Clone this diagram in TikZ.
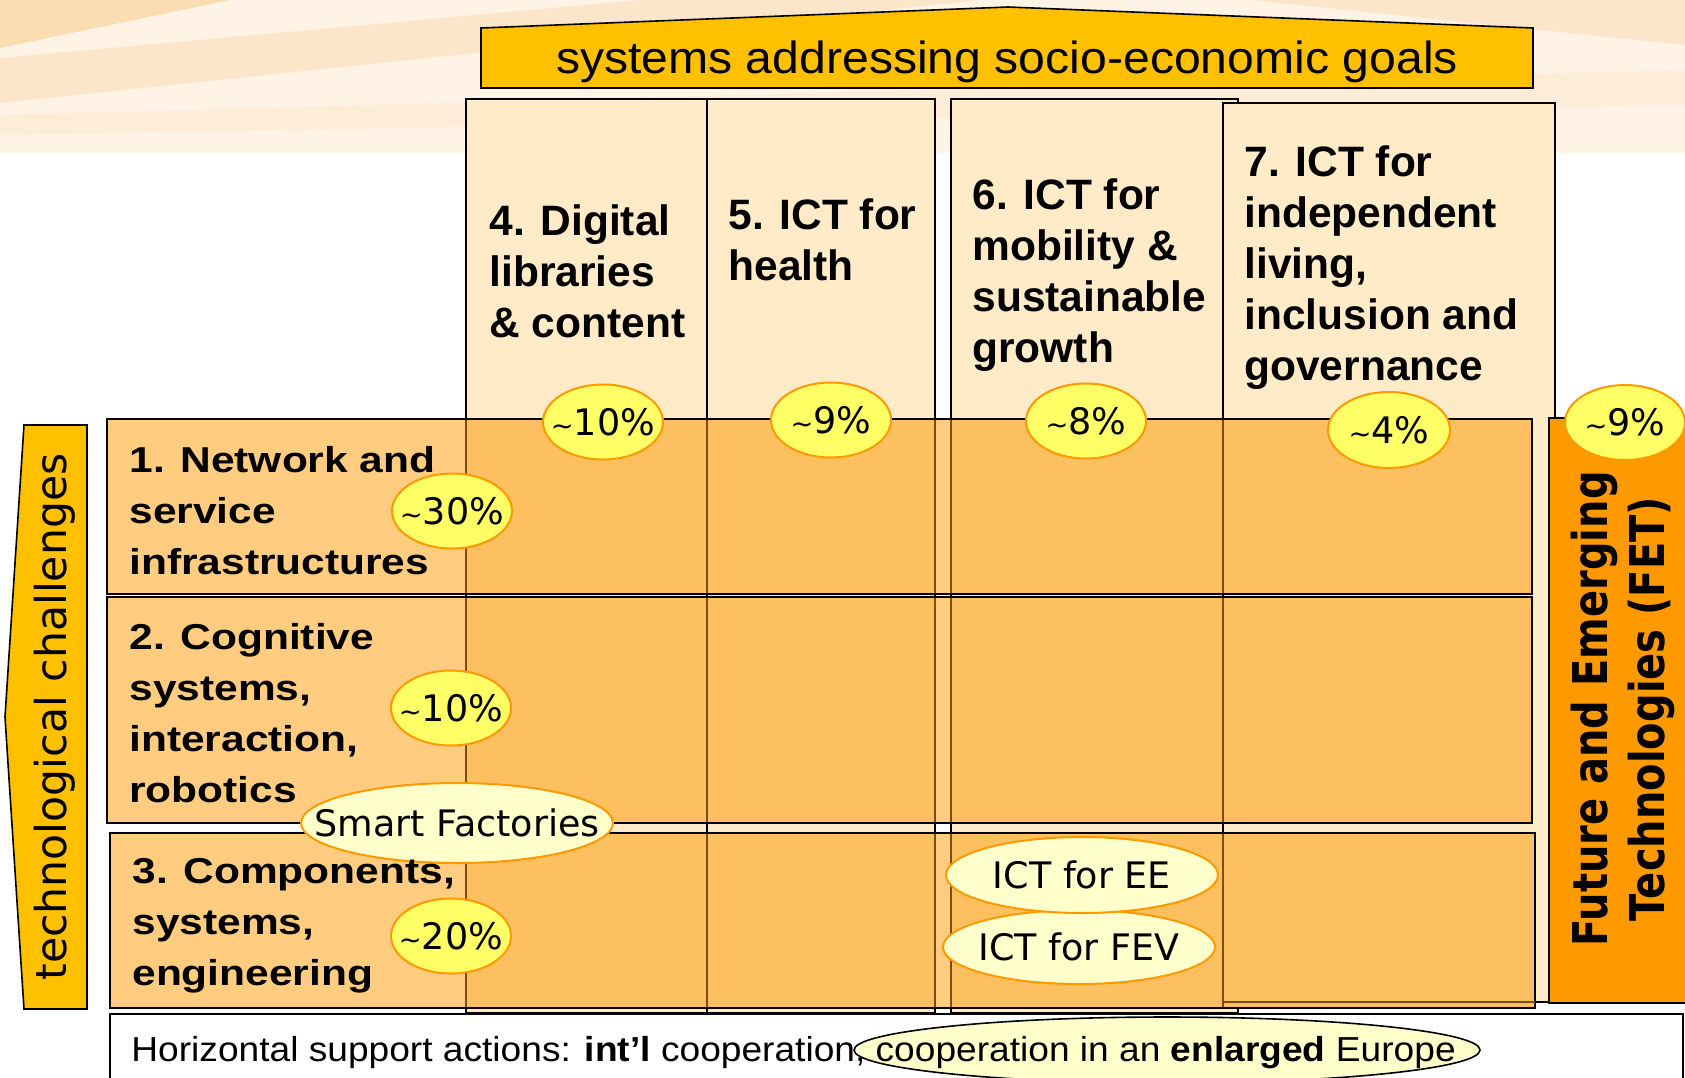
\documentclass[tikz,border=0pt]{standalone}
\usepackage{fontspec}
\usepackage{graphicx}
\setmainfont{Liberation Sans}
\newfontfamily\rowfont{Liberation Sans}[FakeStretch=1.18]
\newfontfamily\widefont{Liberation Sans}[FakeStretch=1.07]
\newfontfamily\verdanafont{DejaVu Sans}
\usetikzlibrary{shapes.geometric}

\definecolor{bargold}{HTML}{FFC000}
\definecolor{goalcream}{HTML}{FFEBC8}
\definecolor{labelorange}{HTML}{FFCC80}
\definecolor{cellorange}{HTML}{FCC060}
\definecolor{fetorange}{HTML}{FF9900}
\definecolor{pctyellow}{HTML}{FFFF66}
\definecolor{tagyellow}{HTML}{FFFFCC}
\definecolor{ringorange}{HTML}{FF9900}
\definecolor{gridbrown}{HTML}{7A4E14}
\definecolor{bgbase}{HTML}{FEF3E4}
\definecolor{bgdark}{HTML}{FBDDB3}
\definecolor{bgmid}{HTML}{FCE6C9}
\definecolor{bglight}{HTML}{FDEDD8}

\tikzset{
    goalcol/.style={draw=black, line width=0.8pt, fill=goalcream},
    challengerow/.style={draw=black, line width=0.8pt},
    gridline/.style={draw=gridbrown, line width=0.7pt},
    goaltext/.style={anchor=north west, inner sep=0pt, align=left, font=\bfseries\fontsize{21.25}{25.5}\selectfont},
    challengetext/.style={anchor=north west, inner sep=0pt, align=left, font=\rowfont\bfseries\fontsize{18}{25.5}\selectfont},
    pct/.style={ellipse, draw=ringorange, line width=1pt, fill=pctyellow, minimum width=60pt, minimum height=37.5pt, inner sep=0pt, font=\verdanafont\fontsize{18.25}{22}\selectfont},
    tagring/.style={ellipse, draw=ringorange, line width=1pt, fill=tagyellow, inner sep=0pt, font=\verdanafont\fontsize{18.25}{22}\selectfont},
    coopring/.style={ellipse, draw=black, line width=0.8pt, fill=tagyellow, inner sep=0pt}
}
\newcommand\pcttext[1]{\makebox[0pt]{\scalebox{0.75}{\textasciitilde}#1\%}}
\newcommand\tagtext[1]{\makebox[0pt]{#1}}

\begin{document}
\begin{tikzpicture}[x=0.5pt, y=-0.5pt]

        \useasboundingbox (0,0) rectangle (1685,1077);
        \clip (0,0) rectangle (1685,1077);

        % ================= BACKGROUND =================
        \begin{scope}
            \clip (0,0) rectangle (1685,153);
            \fill[bgbase] (0,0) rectangle (1685,153);
            \fill[bgdark] (0,0) -- (230,0) -- (0,48) -- cycle;
            \fill[bgmid] (0,58) -- (640,0) -- (980,0) -- (0,103) -- cycle;
            \fill[bglight] (0,115) -- (1685,70) -- (1685,105) -- (0,135) -- cycle;
            \fill[bgmid] (1250,0) -- (1685,0) -- (1685,45) -- cycle;
        \end{scope}

        % ================= GOALS BANNER =================
        \filldraw[fill=bargold, draw=black, line width=0.8pt]
            (481,88) -- (481,28) -- (1008,7) -- (1533,28) -- (1533,88) -- cycle;
        \node[anchor=base, inner sep=0pt, font=\widefont\fontsize{22.5}{26}\selectfont] (goals) at (1007,73)
            {systems addressing socio-economic goals};

        % ================= COLUMNS 4-7 =================
        \draw[goalcol] (466,99) rectangle (707,1013);
        \draw[goalcol] (707,99) rectangle (935,1013);
        \draw[goalcol] (951,99) rectangle (1238,1013);
        \draw[goalcol] (1223,103) rectangle (1555,1002);

        % ================= ROWS 1-3 =================
        \foreach \t/\b/\l/\r in {419/594/107/1532, 597/823/107/1532, 833/1008/110/1535}{
            \fill[labelorange] (\l,\t) rectangle (\r,\b);
            \fill[cellorange] (466,\t) rectangle (935,\b);
            \fill[cellorange] (951,\t) rectangle (\r,\b);
            \foreach \x in {466,707,935,951,1223}
                \draw[gridline] (\x,\t) -- (\x,\b);
            \draw[challengerow] (\l,\t) rectangle (\r,\b);
        }
        \draw[gridline] (1223,1002) -- (1535,1002);

        % ================= FET =================
        \filldraw[fill=fetorange, draw=black, line width=0.8pt] (1549,418) rectangle (1700,1003);
        \node[rotate=90, inner sep=0pt, font=\verdanafont\bfseries\fontsize{20}{24}\selectfont] (fet) at (1624.5,709)
            {\scalebox{1}[1.2]{\begin{tabular}{@{}c@{}}Future and Emerging\\Technologies (FET)\end{tabular}}};

        % ================= TECHNOLOGICAL CHALLENGES =================
        \filldraw[fill=bargold, draw=black, line width=0.8pt]
            (24,425) -- (87,425) -- (87,1009) -- (24,1009) -- (5,717) -- cycle;
        \node[rotate=90, anchor=base, inner sep=0pt, font=\verdanafont\fontsize{21.3}{25}\selectfont] (techch) at (66,717)
            {technological challenges};

        % ================= HORIZONTAL SUPPORT =================
        \draw[line width=0.8pt, fill=white] (110,1014) rectangle (1683,1100);
        \node[coopring, minimum width=313pt, minimum height=33pt] (enlarged) at (1167,1050) {};

        % ================= SHARES =================
        \node[pct] (p4) at (603,422) {\pcttext{10}};
        \node[pct] (p5) at (831,420) {\pcttext{9}};
        \node[pct] (p6) at (1086,421) {\pcttext{8}};
        \node[pct, minimum width=61pt, minimum height=38pt] (p7) at (1389,430) {\pcttext{4}};
        \node[pct] (pfet) at (1625,422.5) {\pcttext{9}};
        \node[pct] (r1) at (452,511) {\pcttext{30}};
        \node[pct] (r2) at (451,708) {\pcttext{10}};
        \node[pct] (r3) at (451,936) {\pcttext{20}};

        % ================= CROSS-CUTTING TOPICS =================
        \node[tagring, minimum width=156pt, minimum height=40pt] (factories) at (457,823) {\tagtext{Smart Factories}};
        \node[tagring, minimum width=136pt, minimum height=37pt] (fev) at (1079,947) {\tagtext{ICT for FEV}};
        \node[tagring, minimum width=136pt, minimum height=38pt] (ee) at (1082,875) {\tagtext{ICT for EE}};

        % ================= LABELS =================
        \node[goaltext] (theme4) at (489,204.6) {4. Digital\\libraries\\\& content};
        \node[goaltext] (theme5) at (728,198.6) {5. ICT for\\health};
        \node[goaltext] (theme6) at (972,178.6) {6. ICT for\\mobility \&\\sustainable\\growth};
        \node[goaltext] (theme7) at (1244,145) {7. ICT for\\independent\\living,\\inclusion and\\governance};

        \node[challengetext] (chal1) at (129,446) {1. Network and\\service\\infrastructures};
        \node[challengetext] (chal2) at (129,623) {2. Cognitive\\systems,\\interaction,\\robotics};
        \node[challengetext] (chal3) at (132,858) {3. Components,\\systems,\\engineering};

        \node[anchor=base west, inner sep=0pt, font=\widefont\fontsize{17.35}{20}\selectfont] (support) at (131,1061)
            {Horizontal support actions: \textbf{int’l} cooperation, cooperation in an \textbf{enlarged} Europe};

\end{tikzpicture}
\end{document}
